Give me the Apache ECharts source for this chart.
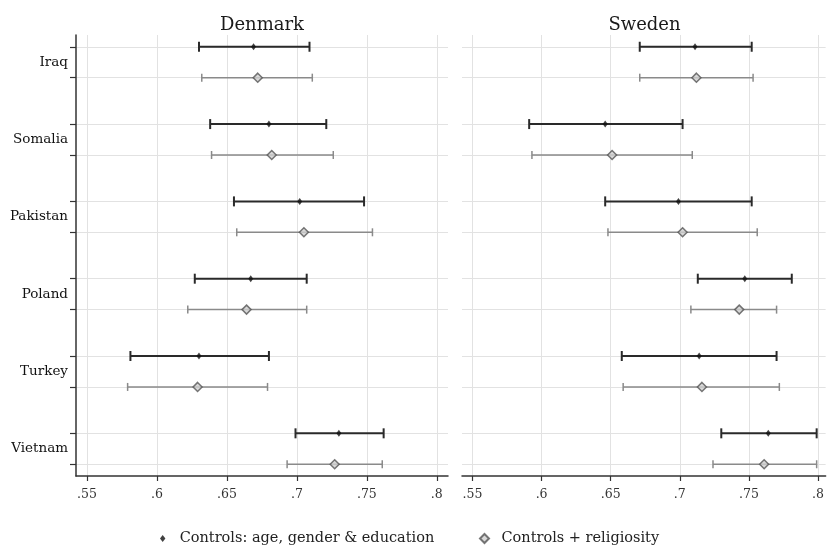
<!DOCTYPE html>
<html>
<head>
<meta charset="utf-8">
<script src="https://cdn.jsdelivr.net/npm/echarts@6/dist/echarts.min.js"></script>
<style>html,body{margin:0;padding:0;background:#fff}#c{width:827px;height:547px}</style>
</head>
<body>
<div id="c"></div>
<script>
const countries = ['Iraq', 'Somalia', 'Pakistan', 'Poland', 'Turkey', 'Vietnam'];
const xTicks = [0.55, 0.6, 0.65, 0.7, 0.75, 0.8];
const xTickLabels = ['.55', '.6', '.65', '.7', '.75', '.8'];
const panels = ['Denmark', 'Sweden'];
const seriesNames = ['Controls: age, gender & education', 'Controls + religiosity'];

// Denmark
const denBaseMean = [0.669, 0.680, 0.702, 0.667, 0.630, 0.730];
const denBaseLow  = [0.630, 0.638, 0.655, 0.627, 0.581, 0.699];
const denBaseHigh = [0.709, 0.721, 0.748, 0.707, 0.680, 0.762];
const denRelMean  = [0.672, 0.682, 0.705, 0.664, 0.629, 0.727];
const denRelLow   = [0.632, 0.639, 0.657, 0.622, 0.579, 0.693];
const denRelHigh  = [0.711, 0.726, 0.754, 0.707, 0.679, 0.761];
// Sweden
const sweBaseMean = [0.711, 0.646, 0.699, 0.747, 0.714, 0.764];
const sweBaseLow  = [0.671, 0.591, 0.646, 0.713, 0.658, 0.730];
const sweBaseHigh = [0.752, 0.702, 0.752, 0.781, 0.770, 0.799];
const sweRelMean  = [0.712, 0.651, 0.702, 0.743, 0.716, 0.761];
const sweRelLow   = [0.671, 0.593, 0.648, 0.708, 0.659, 0.724];
const sweRelHigh  = [0.753, 0.709, 0.756, 0.770, 0.772, 0.799];

const FONT = 'DejaVu Serif';
// row slots on the y value axis: baseline row at 5*i, religiosity row at 5*i+2, label at 5*i+1
const baseRow = i => 5 * i;
const relRow = i => 5 * i + 2;
const labelRow = i => 5 * i + 1;
const rowTicks = [];
countries.forEach((c, i) => { rowTicks.push(baseRow(i), relRow(i)); });
const labelTicks = countries.map((c, i) => labelRow(i));

const BLACK = '#2a2a2a', GRAY = '#8a8a8a';

function errRender(color, width, cap) {
  return function (params, api) {
    const lo = api.coord([api.value(0), api.value(2)]);
    const hi = api.coord([api.value(1), api.value(2)]);
    const style = { stroke: color, lineWidth: width, fill: null };
    return {
      type: 'group', children: [
        { type: 'line', shape: { x1: lo[0], y1: lo[1], x2: hi[0], y2: hi[1] }, style },
        { type: 'line', shape: { x1: lo[0], y1: lo[1] - cap / 2, x2: lo[0], y2: lo[1] + cap / 2 }, style },
        { type: 'line', shape: { x1: hi[0], y1: hi[1] - cap / 2, x2: hi[0], y2: hi[1] + cap / 2 }, style }
      ]
    };
  };
}

function errData(low, high, rowFn) { return low.map((l, i) => [l, high[i], rowFn(i)]); }
function ptData(mean, rowFn) { return mean.map((m, i) => [m, rowFn(i)]); }

const panelData = [
  { base: [denBaseMean, denBaseLow, denBaseHigh], rel: [denRelMean, denRelLow, denRelHigh] },
  { base: [sweBaseMean, sweBaseLow, sweBaseHigh], rel: [sweRelMean, sweRelLow, sweRelHigh] }
];

const grids = [
  { left: 76, top: 35, width: 372, height: 441 },
  { left: 462, top: 35, width: 365, height: 441 }
];
const xRanges = [[0.5421, 0.808], [0.5424, 0.8055]];

const xAxes = grids.map((g, k) => ({
  type: 'value', gridIndex: k, min: xRanges[k][0], max: xRanges[k][1],
  axisLine: { show: true, onZero: false, lineStyle: { color: '#333', width: 1.5 } },
  axisTick: { show: true, length: 5, customValues: xTicks, lineStyle: { color: '#333', width: 1.2 } },
  axisLabel: {
    customValues: xTicks, margin: 12, fontFamily: FONT, fontSize: 12.5, color: '#333',
    formatter: v => xTickLabels[xTicks.findIndex(t => Math.abs(t - v) < 1e-6)]
  },
  splitLine: { show: true, lineStyle: { color: '#e2e2e2', width: 1 } }
}));

const yAxes = grids.map((g, k) => ({
  type: 'value', gridIndex: k, inverse: true, min: -0.76, max: 27.76,
  axisLine: { show: k === 0, onZero: false, lineStyle: { color: '#333', width: 1.5 } },
  axisTick: { show: k === 0, length: 6, customValues: rowTicks, lineStyle: { color: '#333', width: 1.2 } },
  axisLabel: {
    show: k === 0, customValues: labelTicks, margin: 8, fontFamily: FONT, fontSize: 13.5, color: '#111',
    formatter: v => countries[Math.round((v - 1) / 5)]
  },
  splitLine: { show: true, lineStyle: { color: '#e2e2e2', width: 1 } }
}));

const series = [];
panelData.forEach((p, k) => {
  series.push({
    type: 'custom', name: 'ci-rel-' + k, xAxisIndex: k, yAxisIndex: k,
    renderItem: errRender(GRAY, 1.5, 8), encode: { x: [0, 1], y: 2 },
    data: errData(p.rel[1], p.rel[2], relRow), z: 3
  });
  series.push({
    type: 'custom', name: 'ci-base-' + k, xAxisIndex: k, yAxisIndex: k,
    renderItem: errRender(BLACK, 2, 10), encode: { x: [0, 1], y: 2 },
    data: errData(p.base[1], p.base[2], baseRow), z: 3
  });
  series.push({
    type: 'scatter', name: seriesNames[0], xAxisIndex: k, yAxisIndex: k,
    symbol: 'diamond', symbolSize: [5, 7],
    itemStyle: { color: '#111' }, data: ptData(p.base[0], baseRow), z: 5
  });
  series.push({
    type: 'scatter', name: seriesNames[1], xAxisIndex: k, yAxisIndex: k,
    symbol: 'diamond', symbolSize: 9,
    itemStyle: { color: '#cfcfcf', borderColor: '#555', borderWidth: 1.5 },
    data: ptData(p.rel[0], relRow), z: 5
  });
});

const option = {
  animation: false,
  backgroundColor: '#fff',
  title: panels.map((t, k) => ({
    text: t, left: grids[k].left + grids[k].width / 2 - 5, textAlign: 'center', top: 11,
    textStyle: { fontFamily: FONT, fontSize: 18, fontWeight: 'normal', color: '#1a1a1a' }
  })),
  grid: grids,
  xAxis: xAxes,
  yAxis: yAxes,
  legend: [
    {
      data: [{ name: seriesNames[0], icon: 'path://M0,-1.3L1,0L0,1.3L-1,0Z' }],
      left: 155, top: 526, itemWidth: 24, itemHeight: 7, symbolKeepAspect: true,
      textStyle: { fontFamily: FONT, fontSize: 14.5, color: '#222' }
    },
    {
      data: [{ name: seriesNames[1], icon: 'path://M0,-1L1,0L0,1L-1,0Z' }],
      left: 474, top: 526, itemWidth: 24, itemHeight: 9, symbolKeepAspect: true,
      textStyle: { fontFamily: FONT, fontSize: 14.5, color: '#222' }
    }
  ],
  series: series
};

const chart = echarts.init(document.getElementById('c'), null, { renderer: 'canvas' });
chart.setOption(option);
</script>
</body>
</html>
